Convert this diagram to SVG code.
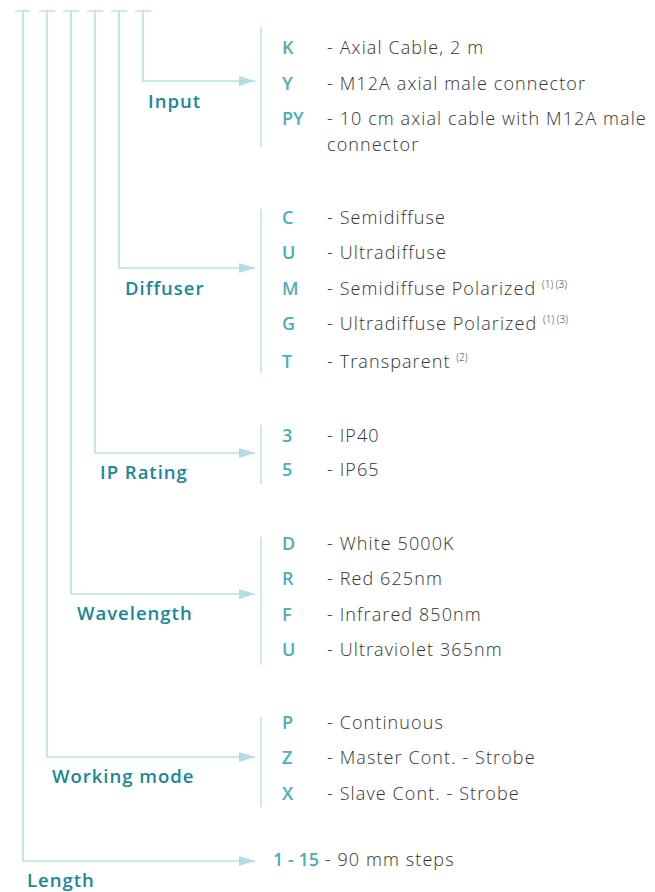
<svg xmlns="http://www.w3.org/2000/svg" width="655" height="892" viewBox="0 0 655 892">
<style>
.ln{fill:none;stroke:#b9dfe5;stroke-width:1.6}
.br{fill:none;stroke:#c3e3e8;stroke-width:1.6}
.lbl{font-family:"Open Sans",Lato,sans-serif;font-weight:600;font-size:18.5px;letter-spacing:1px;fill:#17879a}
.code{font-family:"Open Sans",Lato,sans-serif;font-weight:600;font-size:18px;fill:#4aaeba}
.desc{font-family:"Open Sans",Lato,sans-serif;font-weight:300;font-size:18px;letter-spacing:1.1px;fill:#333}
.sup{font-size:10px;letter-spacing:0}
</style>
<defs>
<marker id="ah" viewBox="0 0 16 10" refX="16" refY="5" markerWidth="16" markerHeight="10" markerUnits="userSpaceOnUse" orient="auto">
<path d="M0,0 L16,5 L0,10 Z" fill="#b3dde4"/>
</marker>
</defs>
<g id="connectors">
<path class="ln" d="M15,11 H30 M39,11 H55 M63,11 H79 M87,11 H103 M111,11 H127 M135,11 H151"/>
<path class="ln" d="M143,11 V81 H255" marker-end="url(#ah)"/>
<path class="ln" d="M119,11 V268 H255" marker-end="url(#ah)"/>
<path class="ln" d="M95,11 V453 H255" marker-end="url(#ah)"/>
<path class="ln" d="M71,11 V594 H255" marker-end="url(#ah)"/>
<path class="ln" d="M47,11 V757 H255" marker-end="url(#ah)"/>
<path class="ln" d="M23,11 V861 H255" marker-end="url(#ah)"/>
<path class="br" d="M261,27 V147 M261,209 V373 M261,425 V484 M261,537 V665 M261,717 V807"/>
</g>
<g id="input">
<text class="lbl" x="148" y="108">Input</text>
<text class="code" x="282" y="54">K</text><text class="desc" x="327" y="54">- Axial Cable, 2 m</text>
<text class="code" x="282" y="90">Y</text><text class="desc" x="327" y="90">- M12A axial male connector</text>
<text class="code" x="282" y="125">PY</text><text class="desc" x="327" y="125">- 10 cm axial cable with M12A male</text>
<text class="desc" x="327" y="151">connector</text>
</g>
<g id="diffuser">
<text class="lbl" x="125" y="295">Diffuser</text>
<text class="code" x="282" y="224">C</text><text class="desc" x="327" y="224">- Semidiffuse</text>
<text class="code" x="282" y="259">U</text><text class="desc" x="327" y="259">- Ultradiffuse</text>
<text class="code" x="282" y="295">M</text><text class="desc" x="327" y="295">- Semidiffuse Polarized <tspan class="sup" dy="-7">(1) (3)</tspan></text>
<text class="code" x="282" y="330">G</text><text class="desc" x="327" y="330">- Ultradiffuse Polarized <tspan class="sup" dy="-7">(1) (3)</tspan></text>
<text class="code" x="282" y="368">T</text><text class="desc" x="327" y="368">- Transparent <tspan class="sup" dy="-7">(2)</tspan></text>
</g>
<g id="ip-rating">
<text class="lbl" x="100" y="479">IP Rating</text>
<text class="code" x="282" y="442">3</text><text class="desc" x="327" y="442">- IP40</text>
<text class="code" x="282" y="476">5</text><text class="desc" x="327" y="476">- IP65</text>
</g>
<g id="wavelength">
<text class="lbl" x="77" y="620">Wavelength</text>
<text class="code" x="282" y="550">D</text><text class="desc" x="327" y="550">- White 5000K</text>
<text class="code" x="282" y="585">R</text><text class="desc" x="327" y="585">- Red 625nm</text>
<text class="code" x="282" y="621">F</text><text class="desc" x="327" y="621">- Infrared 850nm</text>
<text class="code" x="282" y="656">U</text><text class="desc" x="327" y="656">- Ultraviolet 365nm</text>
</g>
<g id="working-mode">
<text class="lbl" x="52" y="783">Working mode</text>
<text class="code" x="282" y="729">P</text><text class="desc" x="327" y="729">- Continuous</text>
<text class="code" x="282" y="764">Z</text><text class="desc" x="327" y="764">- Master Cont. - Strobe</text>
<text class="code" x="282" y="800">X</text><text class="desc" x="327" y="800">- Slave Cont. - Strobe</text>
</g>
<g id="length">
<text class="lbl" x="27" y="887">Length</text>
<text class="desc" x="273" y="866"><tspan class="code" style="letter-spacing:0">1 - 15</tspan> - 90 mm steps</text>
</g>
</svg>
